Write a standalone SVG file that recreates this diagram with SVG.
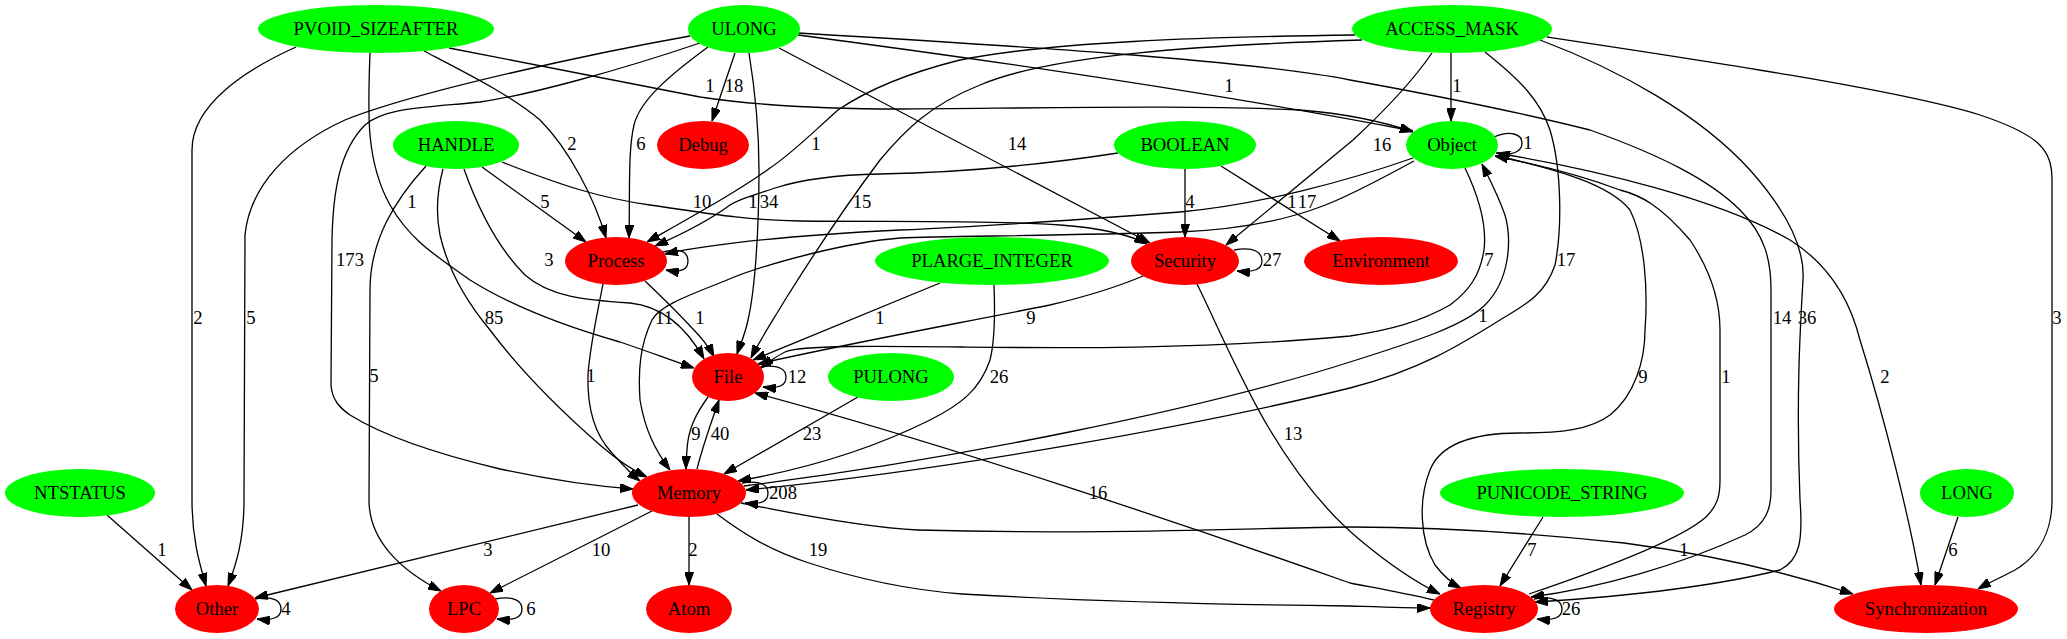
<svg xmlns="http://www.w3.org/2000/svg" width="2067" height="639" viewBox="0 0 2067 639">
<style>
.g{fill:#00ff00}
.r{fill:#ff0000}
.t{font-family:"Liberation Serif","Times New Roman",serif;font-size:18.67px;text-anchor:middle;fill:#000}
.e path{fill:none;stroke:#000;stroke-width:1.3;marker-end:url(#ah)}
</style>
<defs>
<marker id="ah" markerUnits="userSpaceOnUse" markerWidth="13" markerHeight="9" refX="13" refY="4.5" orient="auto" viewBox="0 0 13 9">
<path d="M0,0 L13,4.5 L0,9 z" fill="#000" stroke="#000" stroke-width="1"/>
</marker>
</defs>
<rect width="2067" height="639" fill="#fff"/>
<g id="connectors" class="e">
<path d="M296,47 C245,70 192,105 192,150 L192,500 C192,540 200,565 206,586"/>
<path d="M690,36 C600,52 420,90 345,120 C290,145 250,185 245,235 L244,500 C244,540 236,565 228,586"/>
<path d="M700,43 C620,70 530,95 480,102 C420,108 385,108 365,125 C340,150 333,190 332,240 L331,385 C332,400 340,408 350,415 C390,440 450,457 500,469 C560,482 605,487 633,489"/>
<path d="M426,166 C395,200 370,240 370,290 L369,500 C369,540 400,570 441,591"/>
<path d="M370,53 C368,110 365,160 390,205 C410,240 435,255 470,280 C510,305 560,325 620,342 C650,352 670,360 694,368"/>
<path d="M443,169 C436,195 436,215 440,235 C448,270 465,300 490,330 C520,370 560,410 600,445 C615,458 630,469 647,477"/>
<path d="M464,169 C475,200 495,245 525,275 C550,297 585,300 630,303 C660,306 685,325 704,359"/>
<path d="M482,167 L586,242"/>
<path d="M502,162 C560,185 600,198 650,205 C700,212 740,220 800,221 C900,222 1000,220 1060,225 C1100,228 1130,235 1147,244"/>
<path d="M424,51 C470,75 510,95 540,120 C570,150 595,200 606,238"/>
<path d="M708,47 C670,75 640,100 634,125 C628,150 630,190 629,238"/>
<path d="M735,53 L712,121"/>
<path d="M749,53 C755,90 759,130 759,170 C759,230 755,290 748,320 C745,335 740,345 737,354"/>
<path d="M779,48 L1150,243"/>
<path d="M798,35 C950,55 1200,90 1413,131"/>
<path d="M449,48 C540,65 620,82 700,97 C760,106 820,109 900,109 C1050,108 1200,105 1300,110 C1350,114 1390,124 1413,132"/>
<path d="M1451,53 L1451,121"/>
<path d="M1355,35 C1200,37 1050,42 960,60 C900,75 860,95 838,110 C810,135 790,155 770,168 C740,190 700,212 647,242"/>
<path d="M1362,40 C1200,45 1050,55 980,85 C930,105 905,130 880,160 C850,200 810,260 785,300 C770,325 760,340 751,358"/>
<path d="M1432,53 C1410,85 1380,115 1353,140 L1226,245"/>
<path d="M1485,52 C1520,80 1540,100 1550,130 C1562,170 1562,230 1555,265 C1545,295 1525,305 1500,320 C1460,345 1420,370 1350,388 C1200,425 950,470 746,490"/>
<path d="M744,486 C950,460 1200,410 1350,362 C1420,340 1465,325 1485,305 C1510,280 1512,240 1505,215 C1498,195 1490,180 1482,164"/>
<path d="M1540,40 C1620,70 1700,115 1750,170 C1790,215 1805,250 1803,280 C1800,330 1796,400 1800,500 C1803,540 1800,560 1780,570 C1700,590 1600,598 1535,602"/>
<path d="M798,33 C1000,45 1250,60 1350,80 C1450,98 1530,115 1590,130 C1660,155 1710,180 1740,210 C1765,235 1771,260 1771,290 L1771,490 C1771,510 1765,525 1745,535 C1680,565 1600,588 1531,597"/>
<path d="M1547,37 C1700,60 1900,90 1980,115 C2040,135 2052,150 2052,180 L2052,500 C2052,530 2040,555 2015,570 C2000,578 1990,582 1978,589"/>
<path d="M1496,153 C1600,170 1720,200 1790,240 C1830,265 1850,300 1860,340 C1885,420 1910,520 1921,585"/>
<path d="M1497,156 C1560,170 1610,185 1630,210 C1645,240 1648,290 1645,330 C1645,360 1635,395 1610,415 C1590,430 1560,433 1520,433 C1470,433 1440,445 1430,470 C1418,500 1420,540 1435,565 C1445,578 1455,585 1461,588"/>
<path d="M1529,594 C1600,570 1680,540 1706,517 C1718,505 1720,495 1720,480 L1720,330 C1720,300 1710,270 1690,240 C1660,205 1640,195 1620,190 C1580,175 1540,165 1495,156"/>
<path d="M1494,137 C1510,130 1522,134 1522,143 C1522,152 1512,156 1497,153"/>
<path d="M1465,168 C1478,195 1487,225 1484,250 C1480,275 1470,290 1450,305 C1420,322 1390,330 1350,336 C1200,350 1050,348 962,347 C880,346 800,345 785,352 C775,357 768,362 761,368"/>
<path d="M1413,158 C1350,180 1260,205 1180,212 C1050,222 950,228 900,230 C800,235 720,242 665,254"/>
<path d="M1414,161 C1370,185 1340,200 1320,207 C1280,222 1230,230 1180,232 C1050,236 950,236 900,238 C850,242 770,262 727,280 C690,295 660,305 652,320 C640,345 638,370 640,400 C645,430 655,450 670,470"/>
<path d="M1118,153 C1020,168 940,173 880,174 C830,175 800,180 775,188 C755,195 740,198 730,205 C710,220 680,235 655,246"/>
<path d="M1185,169 L1185,237"/>
<path d="M1221,166 L1340,241"/>
<path d="M940,283 L753,360"/>
<path d="M994,285 C995,310 995,340 990,360 C980,390 960,405 930,420 C870,450 800,470 738,481"/>
<path d="M858,397 L724,474"/>
<path d="M1143,276 C1110,290 1080,298 1050,305 C950,325 840,345 758,364"/>
<path d="M1197,284 C1215,320 1240,380 1270,430 C1300,480 1330,515 1360,540 C1390,565 1415,582 1440,594"/>
<path d="M1434,600 C1400,592 1370,587 1350,583 C1200,530 950,445 755,393"/>
<path d="M717,514 C745,535 770,550 806,562 C860,580 910,590 962,594 C1100,602 1250,605 1350,606 C1380,607 1405,608 1430,608"/>
<path d="M741,503 C800,515 870,528 918,530 C1100,535 1250,528 1350,527 C1450,527 1550,535 1624,543 C1700,553 1780,570 1853,594"/>
<path d="M638,505 L255,598"/>
<path d="M652,511 L490,593"/>
<path d="M689,517 L689,585"/>
<path d="M107,515 L192,590"/>
<path d="M708,397 C695,415 688,430 687,450 C686,460 686,465 686,469"/>
<path d="M697,469 C703,445 712,420 719,400"/>
<path d="M645,281 C665,300 680,315 692,328 C702,338 709,347 714,357"/>
<path d="M603,284 C598,310 590,345 588,375 C587,410 595,435 612,453 C622,464 630,473 640,481"/>
<path d="M663,252 C682,247 688,253 688,261 C688,269 682,273 666,270"/>
<path d="M1234,250 C1255,246 1262,253 1262,261 C1262,269 1254,273 1237,271"/>
<path d="M760,367 C780,364 786,370 786,377 C786,385 780,389 763,387"/>
<path d="M742,483 C762,480 768,486 768,493 C768,501 762,505 745,503"/>
<path d="M255,599 C275,595 281,602 281,609 C281,617 274,621 257,619"/>
<path d="M495,599 C515,595 522,602 522,609 C522,617 515,621 497,619"/>
<path d="M1534,599 C1555,595 1562,602 1562,609 C1562,617 1555,621 1537,619"/>
<path d="M1543,517 L1500,586"/>
<path d="M1958,517 L1935,585"/>
</g>
<g id="edge-labels" class="t">
<text x="198" y="324">2</text>
<text x="251" y="324">5</text>
<text x="350" y="266">173</text>
<text x="412" y="208">1</text>
<text x="572" y="150">2</text>
<text x="641" y="150">6</text>
<text x="545" y="208">5</text>
<text x="549" y="266">3</text>
<text x="494" y="324">85</text>
<text x="374" y="382">5</text>
<text x="664" y="324">11</text>
<text x="700" y="324">1</text>
<text x="591" y="382">1</text>
<text x="702" y="208">10</text>
<text x="753" y="208">1</text>
<text x="769" y="208">34</text>
<text x="862" y="208">15</text>
<text x="816" y="150">1</text>
<text x="1017" y="150">14</text>
<text x="710" y="92">1</text>
<text x="734" y="92">18</text>
<text x="1229" y="92">1</text>
<text x="1457" y="92">1</text>
<text x="1382" y="151">16</text>
<text x="1528" y="149">1</text>
<text x="1190" y="208">4</text>
<text x="1292" y="208">1</text>
<text x="1307" y="208">17</text>
<text x="1272" y="266">27</text>
<text x="1489" y="266">7</text>
<text x="1566" y="266">17</text>
<text x="1483" y="322">1</text>
<text x="1782" y="324">14</text>
<text x="1807" y="324">36</text>
<text x="2057" y="324">3</text>
<text x="1643" y="383">9</text>
<text x="1726" y="383">1</text>
<text x="1885" y="383">2</text>
<text x="880" y="324">1</text>
<text x="1031" y="324">9</text>
<text x="797" y="383">12</text>
<text x="999" y="383">26</text>
<text x="696" y="440">9</text>
<text x="720" y="440">40</text>
<text x="812" y="440">23</text>
<text x="1293" y="440">13</text>
<text x="783" y="499">208</text>
<text x="1098" y="499">16</text>
<text x="162" y="556">1</text>
<text x="488" y="556">3</text>
<text x="601" y="556">10</text>
<text x="693" y="556">2</text>
<text x="818" y="556">19</text>
<text x="1532" y="556">7</text>
<text x="1684" y="556">1</text>
<text x="1953" y="556">6</text>
<text x="286" y="615">4</text>
<text x="531" y="615">6</text>
<text x="1571" y="615">26</text>
</g>
<g id="node-PVOID_SIZEAFTER"><ellipse class="g" cx="376" cy="29" rx="118" ry="24"/><text class="t" x="376" y="35">PVOID_SIZEAFTER</text></g>
<g id="node-ULONG"><ellipse class="g" cx="744" cy="29" rx="56" ry="24"/><text class="t" x="744" y="35">ULONG</text></g>
<g id="node-ACCESS_MASK"><ellipse class="g" cx="1452" cy="29" rx="100" ry="24"/><text class="t" x="1452" y="35">ACCESS_MASK</text></g>
<g id="node-HANDLE"><ellipse class="g" cx="456" cy="145" rx="63" ry="24"/><text class="t" x="456" y="151">HANDLE</text></g>
<g id="node-Debug"><ellipse class="r" cx="703" cy="145" rx="46" ry="24"/><text class="t" x="703" y="151">Debug</text></g>
<g id="node-BOOLEAN"><ellipse class="g" cx="1185" cy="145" rx="71" ry="24"/><text class="t" x="1185" y="151">BOOLEAN</text></g>
<g id="node-Object"><ellipse class="g" cx="1452" cy="145" rx="46" ry="24"/><text class="t" x="1452" y="151">Object</text></g>
<g id="node-Process"><ellipse class="r" cx="616" cy="261" rx="51" ry="24"/><text class="t" x="616" y="267">Process</text></g>
<g id="node-PLARGE_INTEGER"><ellipse class="g" cx="992" cy="261" rx="117" ry="24"/><text class="t" x="992" y="267">PLARGE_INTEGER</text></g>
<g id="node-Security"><ellipse class="r" cx="1185" cy="261" rx="54" ry="24"/><text class="t" x="1185" y="267">Security</text></g>
<g id="node-Environment"><ellipse class="r" cx="1381" cy="261" rx="77" ry="24"/><text class="t" x="1381" y="267">Environment</text></g>
<g id="node-File"><ellipse class="r" cx="728" cy="377" rx="36" ry="24"/><text class="t" x="728" y="383">File</text></g>
<g id="node-PULONG"><ellipse class="g" cx="891" cy="377" rx="63" ry="24"/><text class="t" x="891" y="383">PULONG</text></g>
<g id="node-NTSTATUS"><ellipse class="g" cx="80" cy="493" rx="75" ry="24"/><text class="t" x="80" y="499">NTSTATUS</text></g>
<g id="node-Memory"><ellipse class="r" cx="689" cy="493" rx="57" ry="24"/><text class="t" x="689" y="499">Memory</text></g>
<g id="node-PUNICODE_STRING"><ellipse class="g" cx="1562" cy="493" rx="122" ry="24"/><text class="t" x="1562" y="499">PUNICODE_STRING</text></g>
<g id="node-LONG"><ellipse class="g" cx="1967" cy="493" rx="47" ry="24"/><text class="t" x="1967" y="499">LONG</text></g>
<g id="node-Other"><ellipse class="r" cx="217" cy="609" rx="42" ry="24"/><text class="t" x="217" y="615">Other</text></g>
<g id="node-LPC"><ellipse class="r" cx="464" cy="609" rx="35" ry="24"/><text class="t" x="464" y="615">LPC</text></g>
<g id="node-Atom"><ellipse class="r" cx="689" cy="609" rx="43" ry="24"/><text class="t" x="689" y="615">Atom</text></g>
<g id="node-Registry"><ellipse class="r" cx="1484" cy="609" rx="54" ry="24"/><text class="t" x="1484" y="615">Registry</text></g>
<g id="node-Synchronization"><ellipse class="r" cx="1926" cy="609" rx="92" ry="24"/><text class="t" x="1926" y="615">Synchronization</text></g>
</svg>
